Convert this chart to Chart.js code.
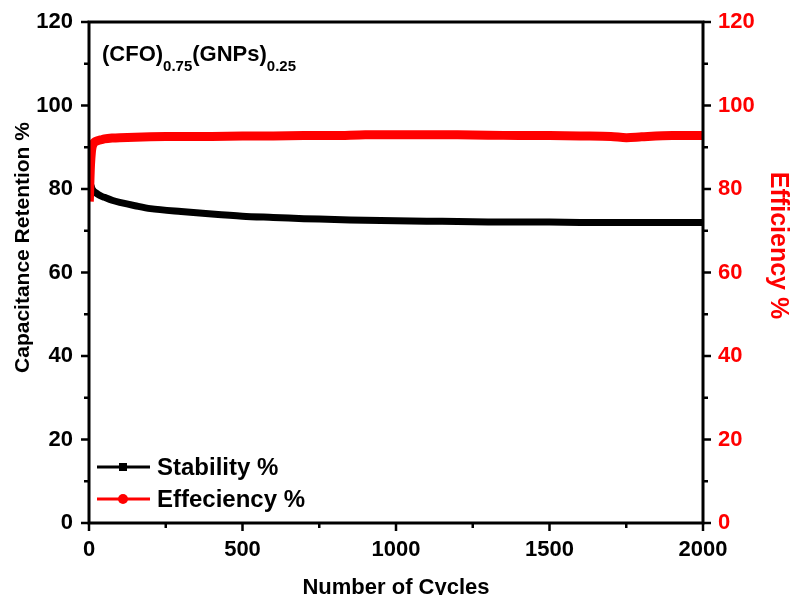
<!DOCTYPE html>
<html>
<head>
<meta charset="utf-8">
<script src="https://cdn.jsdelivr.net/npm/chart.js@4"></script>
<style>
  html, body { margin: 0; padding: 0; background: #fff; }
  #wrap { width: 793px; height: 595px; }
</style>
</head>
<body>
<div id="wrap"><canvas id="cycleChart" width="793" height="595"></canvas></div>
<script>
const cycles = [1, 2, 3, 5, 8, 10, 12, 15, 20, 30, 40, 50, 75, 100, 150, 200, 300, 400, 500, 600, 700, 800, 900, 1000, 1100, 1200, 1300, 1400, 1500, 1600, 1700, 1750, 1800, 1900, 2000];
const stability = [82.5, 82, 81.5, 81, 80.5, 80, 79.8, 79.5, 79.2, 78.7, 78.3, 78, 77.3, 76.8, 76, 75.3, 74.6, 74, 73.5, 73.2, 72.9, 72.7, 72.5, 72.4, 72.3, 72.2, 72.1, 72.1, 72.1, 72, 72, 72, 72, 72, 72];
const efficiency = [77, 79, 82, 86, 89, 90, 90.5, 91, 91.3, 91.6, 91.8, 92, 92.2, 92.3, 92.4, 92.5, 92.6, 92.6, 92.7, 92.7, 92.8, 92.8, 93, 93, 93, 93, 92.9, 92.8, 92.8, 92.7, 92.6, 92.3, 92.5, 92.8, 92.8];
const xTicks = [0, 500, 1000, 1500, 2000];
const yTicks = [0, 20, 40, 60, 80, 100, 120];
const seriesNames = ["Stability %", "Effeciency %"];
const leftTitle = "Capacitance Retention %";
const rightTitle = "Efficiency %";

const FONT = "'Liberation Sans', Arial, sans-serif";

function toPoints(ys) {
  return cycles.map((c, i) => ({ x: c, y: ys[i] }));
}

// frame, major + minor tick marks, y titles, legend and sample label
const decorPlugin = {
  id: "decor",
  afterDraw(chart) {
    const { ctx, chartArea: a, scales } = chart;
    const xs = scales.x, yl = scales.y, yr = scales.y2;
    ctx.save();
    ctx.strokeStyle = "#000";
    ctx.lineWidth = 3;
    ctx.strokeRect(a.left, a.top, a.right - a.left, a.bottom - a.top);

    ctx.lineWidth = 2.5;
    ctx.beginPath();
    for (let v = 0; v <= 2000; v += 250) {
      const px = xs.getPixelForValue(v);
      const len = v % 500 === 0 ? 8 : 5;
      ctx.moveTo(px, a.bottom);
      ctx.lineTo(px, a.bottom + len);
    }
    for (let v = 0; v <= 120; v += 10) {
      const len = v % 20 === 0 ? 8 : 5;
      const pl = yl.getPixelForValue(v);
      ctx.moveTo(a.left, pl);
      ctx.lineTo(a.left - len, pl);
      const pr = yr.getPixelForValue(v);
      ctx.moveTo(a.right, pr);
      ctx.lineTo(a.right + len, pr);
    }
    ctx.stroke();

    // y axis titles (sit a bit above the axis middle in the original)
    const midY = yl.getPixelForValue(60) - 25;
    ctx.textAlign = "center";
    ctx.textBaseline = "middle";
    ctx.font = "bold 21px " + FONT;
    ctx.fillStyle = "#000";
    ctx.save();
    ctx.translate(23, midY);
    ctx.rotate(-Math.PI / 2);
    ctx.fillText(leftTitle, 0, 0);
    ctx.restore();
    ctx.font = "bold 25px " + FONT;
    ctx.fillStyle = "#ff0000";
    ctx.save();
    ctx.translate(778, midY - 2);
    ctx.rotate(Math.PI / 2);
    ctx.fillText(rightTitle, 0, 0);
    ctx.restore();

    // legend
    ctx.textAlign = "left";
    const colors = ["#000", "#ff0000"];
    const rows = [467, 499];
    ctx.font = "bold 24px " + FONT;
    rows.forEach((y, i) => {
      ctx.strokeStyle = colors[i];
      ctx.fillStyle = colors[i];
      ctx.lineWidth = 3;
      ctx.beginPath();
      ctx.moveTo(97, y);
      ctx.lineTo(150, y);
      ctx.stroke();
      ctx.beginPath();
      if (i === 0) ctx.rect(119, y - 4, 8, 8);
      else ctx.arc(123, y, 5, 0, Math.PI * 2);
      ctx.fill();
      ctx.fillStyle = "#000";
      ctx.fillText(seriesNames[i], 157, y + 1);
    });

    // sample label with subscripts
    ctx.fillStyle = "#000";
    ctx.textBaseline = "alphabetic";
    let x = 102;
    const parts = [["(CFO)", 0], ["0.75", 1], ["(GNPs)", 0], ["0.25", 1]];
    parts.forEach(([t, sub]) => {
      ctx.font = sub ? "bold 15px " + FONT : "bold 22px " + FONT;
      ctx.fillText(t, x, sub ? 71 : 61);
      x += ctx.measureText(t).width;
    });
    ctx.restore();
  }
};

new Chart(document.getElementById("cycleChart"), {
  type: "line",
  data: {
    datasets: [{
      label: seriesNames[1],
      data: toPoints(efficiency),
      yAxisID: "y2",
      borderColor: "#ff0000",
      borderWidth: 9,
      pointRadius: 0,
      tension: 0.3,
      fill: false,
      order: 0,
    }, {
      label: seriesNames[0],
      data: toPoints(stability),
      yAxisID: "y",
      borderColor: "#000",
      borderWidth: 7,
      pointRadius: 0,
      tension: 0.3,
      fill: false,
      order: 1,
    }],
  },
  options: {
    responsive: false,
    animation: false,
    layout: { padding: { top: 22, left: 0, right: 0, bottom: 0 } },
    plugins: { legend: { display: false }, tooltip: { enabled: false } },
    scales: {
      x: {
        type: "linear",
        min: 0, max: 2000,
        afterBuildTicks: (s) => { s.ticks = xTicks.map(v => ({ value: v })); },
        afterFit: (s) => { s.height = 72; },
        grid: { display: false },
        border: { display: false },
        ticks: { color: "#000", padding: 6, maxRotation: 0, callback: (v) => String(v), font: { family: FONT, size: 22, weight: "bold" } },
        title: { display: true, text: "Number of Cycles", color: "#000", padding: { top: 0, bottom: -6 }, font: { family: FONT, size: 22, weight: "bold" } },
      },
      y: {
        position: "left",
        min: 0, max: 120,
        afterBuildTicks: (s) => { s.ticks = yTicks.map(v => ({ value: v })); },
        afterFit: (s) => { s.width = 89; },
        grid: { display: false },
        border: { display: false },
        ticks: { color: "#000", padding: 8, callback: (v) => String(v), font: { family: FONT, size: 22, weight: "bold" } },
        title: { display: false },
      },
      y2: {
        position: "right",
        min: 0, max: 120,
        afterBuildTicks: (s) => { s.ticks = yTicks.map(v => ({ value: v })); },
        afterFit: (s) => { s.width = 90; },
        grid: { display: false },
        border: { display: false },
        ticks: { color: "#ff0000", padding: 7, callback: (v) => String(v), font: { family: FONT, size: 22, weight: "bold" } },
        title: { display: false },
      },
    },
  },
  plugins: [decorPlugin],
});
</script>
</body>
</html>
